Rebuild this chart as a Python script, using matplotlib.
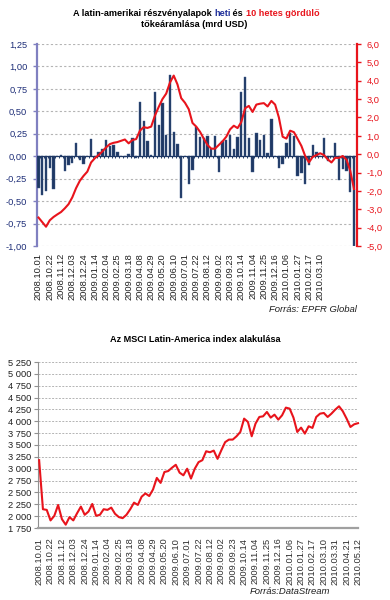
import numpy as np
import matplotlib
matplotlib.use("Agg")
import matplotlib.pyplot as plt
from matplotlib.ticker import FuncFormatter
from matplotlib.offsetbox import TextArea, HPacker, AnchoredOffsetbox

plt.rcParams['font.family'] = ['Liberation Sans', 'DejaVu Sans']

########## data: weekly flows (mrd USD), 2008.10.01 - 2010.05.12 ##########
flow_weekly = [-0.35, -0.43, -0.39, -0.13, -0.36, 0.00, 0.01, -0.17, -0.10, -0.08,
               0.15, -0.04, -0.09, 0.00, 0.19, 0.00, 0.045, 0.08, 0.18, 0.11,
               0.12, 0.05, 0.00, -0.01, 0.02, 0.20, -0.02, 0.60, 0.39, 0.175,
               0.01, 0.71, 0.35, 0.59, 0.24, 0.90, 0.265, 0.14, -0.46, 0.00,
               -0.31, -0.15, 0.32, 0.21, 0.20, 0.23, 0.075, 0.22, -0.18, 0.17,
               0.18, 0.24, 0.08, 0.21, 0.71, 0.88, 0.20, -0.18, 0.26, 0.18,
               0.24, 0.04, 0.41, 0.00, -0.13, -0.09, 0.15, 0.26, 0.23, -0.22,
               -0.19, -0.31, -0.10, 0.12, 0.05, 0.00, 0.20, -0.05, -0.01, 0.15,
               -0.26, -0.14, -0.165, -0.40, -1.00]

flow_10w = [-3.45, -3.70, -3.95, -3.60, -3.42, -3.28, -3.15, -2.95, -2.72, -2.35,
            -1.85, -1.45, -1.18, -0.95, -0.45, -0.22, -0.05, 0.15, 0.37, 0.55,
            0.62, 0.66, 0.73, 0.80, 0.59, 0.77, 0.82, 1.28, 1.47, 1.43,
            1.50, 2.10, 2.57, 3.00, 3.30, 3.90, 4.28, 3.80, 3.05, 2.80,
            2.45, 1.70, 1.50, 1.22, 0.85, 0.50, 0.30, 0.30, 0.50, 0.70,
            0.95, 1.35, 1.55, 1.42, 1.75, 2.50, 2.63, 2.30, 2.70, 2.75,
            2.78, 2.60, 2.90, 2.70, 2.00, 0.95, 0.85, 1.28, 1.20, 0.83,
            0.45, -0.10, -0.45, -0.15, -0.05, 0.05, -0.05, -0.28, -0.45, -0.20,
            -0.20, -0.10, -0.30, -0.90, -1.90]

top_labels = ['2008.10.01', '2008.10.22', '2008.11.12', '2008.12.03', '2008.12.24',
              '2009.01.14', '2009.02.04', '2009.02.25', '2009.03.18', '2009.04.08',
              '2009.04.29', '2009.05.20', '2009.06.10', '2009.07.01', '2009.07.22',
              '2009.08.12', '2009.09.02', '2009.09.23', '2009.10.14', '2009.11.04',
              '2009.11.25', '2009.12.16', '2010.01.06', '2010.01.27', '2010.02.17',
              '2010.03.10']

########## data: MSCI Latin-America index ##########
msci = [3180, 2146, 2132, 1910, 2007, 2236, 1937, 1820, 1980, 1910,
        2062, 2201, 2028, 2097, 2257, 2007, 2028, 2146, 2132, 2180,
        2049, 1980, 1958, 2028, 2146, 2285, 2236, 2410, 2479, 2424,
        2562, 2806, 2701, 2930, 2951, 3021, 3083, 2917, 2861, 3000,
        2792, 3000, 3139, 3180, 3368, 3347, 3382, 3208, 3390, 3560,
        3614, 3614, 3684, 3775, 4056, 3986, 3684, 3951, 4091, 4105,
        4197, 4077, 4140, 4035, 4126, 4288, 4267, 4077, 3775, 3867,
        3740, 3895, 3860, 4091, 4161, 4175, 4091, 4161, 4246, 4316,
        4211, 4056, 3880, 3937, 3960]

bottom_labels = top_labels + ['2010.03.31', '2010.04.21', '2010.05.12']

NAVY = '#1F3864'
RED = '#E8141C'
GRID = '#B4B4B4'
W, H = 390, 600
FS = 6.7

fig = plt.figure(figsize=(W / 100, H / 100), dpi=100)
fig.patch.set_facecolor('white')

def box(l, t, r, b):
    return [l / W, 1 - b / H, (r - l) / W, (b - t) / H]

########## top chart ##########
ax = fig.add_axes(box(37, 44, 357, 246))
x = np.arange(len(flow_weekly))
ax.bar(x, flow_weekly, width=0.62, color=NAVY, edgecolor='#3C5A8A', linewidth=0.3, zorder=3)
ax.set_xlim(-0.4, len(x) - 0.2)
ax.set_ylim(-1.0, 1.25)
ax.set_yticks(np.arange(-1.0, 1.26, 0.25))
ax.yaxis.set_major_formatter(FuncFormatter(lambda v, p: ('%.2f' % v).replace('.', ',')))
for v in np.arange(-1.0, 1.26, 0.25):
    ax.axhline(v, color=GRID, lw=0.8, ls=(0, (2, 2)), zorder=1)
ax.axhline(0, color=NAVY, lw=0.9, zorder=4)
ax.vlines(x[:-1] + 0.5, -0.025, 0, color=NAVY, lw=0.7, zorder=4)
ax.set_xticks(x[::3][:len(top_labels)])
ax.set_xticklabels(top_labels, rotation=90, fontsize=FS, color='#202020')
ax.tick_params(axis='x', length=0, pad=5)
ax.tick_params(axis='y', colors='#8080C0', labelcolor='#1F2F78', labelsize=FS,
               length=3, width=1, pad=4, direction='out')
for s in ['top', 'right', 'bottom']:
    ax.spines[s].set_visible(False)
ax.spines['left'].set_color('#8080C0')
ax.spines['left'].set_linewidth(1.6)

ax2 = ax.twinx()
ax2.plot(x, flow_10w, color=RED, lw=1.5, zorder=5)
ax2.set_ylim(-5, 6)
ax2.set_yticks(np.arange(-5, 6.1, 1))
ax2.yaxis.set_major_formatter(FuncFormatter(lambda v, p: ('%.1f' % v).replace('.', ',')))
ax2.tick_params(axis='y', colors=RED, labelcolor=RED, labelsize=FS,
                length=3, width=1, pad=4, direction='out')
for s in ['top', 'left', 'bottom']:
    ax2.spines[s].set_visible(False)
ax2.spines['right'].set_color(RED)
ax2.spines['right'].set_linewidth(1.6)

# title with coloured words
parts = [('A latin-amerikai részvényalapok ', '#000000'), ('heti', '#1F2F9A'),
         (' és ', '#000000'), ('10 hetes gördülő', RED)]
areas = [TextArea(t, textprops=dict(color=c, fontweight='bold', fontsize=6.6)) for t, c in parts]
line1 = HPacker(children=areas, pad=0, sep=0)
ab = AnchoredOffsetbox(loc='center', child=line1, frameon=False,
                       bbox_to_anchor=(196 / W, 1 - 13 / H), bbox_transform=fig.transFigure,
                       borderpad=0, pad=0)
fig.add_artist(ab)
fig.text(194 / W, 1 - 24.5 / H, 'tőkeáramlása (mrd USD)', ha='center', va='center',
         fontsize=6.6, fontweight='bold')
fig.text(357 / W, 1 - 309 / H, 'Forrás: EPFR Global', ha='right', va='center',
         fontsize=6.8, style='italic', color='#202020')

########## bottom chart ##########
bx = fig.add_axes(box(38, 362, 358, 528))
xb = np.arange(len(msci))
bx.plot(xb, msci, color=RED, lw=1.5, zorder=5, clip_on=False)
bx.set_xlim(-0.3, 83.8)
bx.set_ylim(1750, 5250)
yt = np.arange(1750, 5251, 250)
bx.set_yticks(yt)
bx.yaxis.set_major_formatter(FuncFormatter(lambda v, p: '{:,}'.format(int(v)).replace(',', ' ')))
for v in yt[1:]:
    bx.axhline(v, color=GRID, lw=0.7, ls=(0, (2, 1.5)), zorder=1)
bx.set_xticks(xb[::3][:len(bottom_labels)])
bx.set_xticklabels(bottom_labels, rotation=90, fontsize=FS, color='#303030')
bx.tick_params(axis='x', length=0, pad=7)
bx.tick_params(axis='y', colors='#909090', labelcolor='#202020', labelsize=FS,
               length=3, width=0.8, pad=2)
for s in ['top', 'right']:
    bx.spines[s].set_visible(False)
bx.spines['left'].set_color('#909090')
bx.spines['bottom'].set_color('#A0A0A0')
bx.spines['bottom'].set_linewidth(1.6)

fig.text(195 / W, 1 - 340 / H, 'Az MSCI Latin-America index alakulása', ha='center',
         va='center', fontsize=6.6, fontweight='bold')
fig.text(290 / W, 1 - 591 / H, 'Forrás:DataStream', ha='center', va='center',
         fontsize=6.8, style='italic', color='#202020')

fig.savefig('out.png', dpi=100)
